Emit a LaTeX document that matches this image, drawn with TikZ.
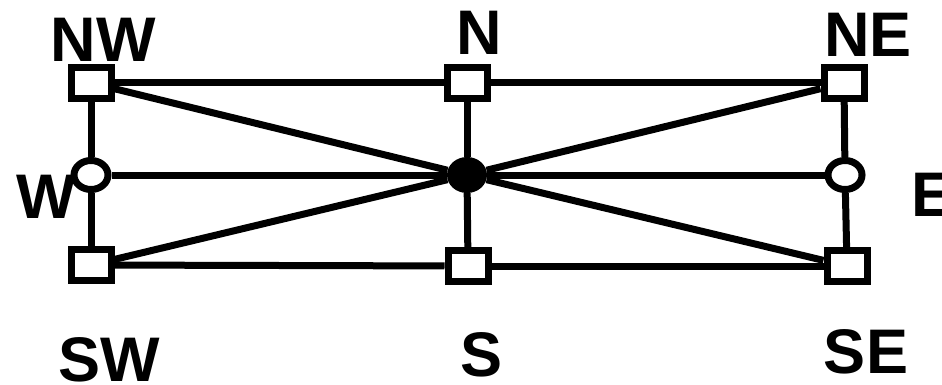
\documentclass[tikz,border=0pt]{standalone}
\usepackage{fontspec}
\setmainfont{Liberation Sans}
\usetikzlibrary{shapes.geometric}
\begin{document}
\begin{tikzpicture}[x=1pt,y=-1pt,
  sq/.style={draw,fill=white,line width=7pt,rectangle,minimum width=40pt,minimum height=31pt,inner sep=0pt},
  ov/.style={draw,fill=white,line width=7pt,ellipse,minimum width=34pt,minimum height=29pt,inner sep=0pt},
  hub/.style={fill=black,ellipse,minimum width=40pt,minimum height=36pt,inner sep=0pt},
  lbl/.style={inner sep=0pt,font=\fontsize{63}{63}\selectfont\bfseries},
  ln/.style={line width=7pt}]
\useasboundingbox (0,0) rectangle (942,385);
\fill[white] (0,0) rectangle (942,385);
\node[sq] (NW) at (91,83) {};
\node[sq] (N) at (467,83) {};
\node[sq] (NE) at (844,83) {};
\node[ov] (W) at (91,175) {};
\node[hub] (C) at (467,175) {};
\node[ov] (E) at (845,175) {};
\node[sq] (SW) at (91,265) {};
\node[sq] (S) at (468,266) {};
\node[sq] (SE) at (847,266) {};
\draw[ln] (NW) -- (N);
\draw[ln] (N) -- (NE);
\draw[ln] (SW) -- (S);
\draw[ln] (S) -- (SE);
\draw[ln] (NW) -- (W);
\draw[ln] (W) -- (SW);
\draw[ln] (NE) -- (E);
\draw[ln] (E) -- (SE);
\draw[ln] (W) -- (C);
\draw[ln] (C) -- (E);
\draw[ln] (N) -- (C);
\draw[ln] (C) -- (S);
\draw[ln] (NW) -- (C);
\draw[ln] (C) -- (SE);
\draw[ln] (SW) -- (C);
\draw[ln] (C) -- (NE);
\node[lbl] (tNW) at (103,40) {NW};
\node[lbl] (tN) at (479,33) {N};
\node[lbl] (tNE) at (868,35) {NE};
\node[lbl,anchor=west] (tW) at (16,197) {W};
\node[lbl,anchor=west] (tE) at (911,195) {E};
\node[lbl] (tSW) at (109,360) {SW};
\node[lbl] (tS) at (482,355) {S};
\node[lbl] (tSE) at (866,352) {SE};
\end{tikzpicture}
\end{document}
